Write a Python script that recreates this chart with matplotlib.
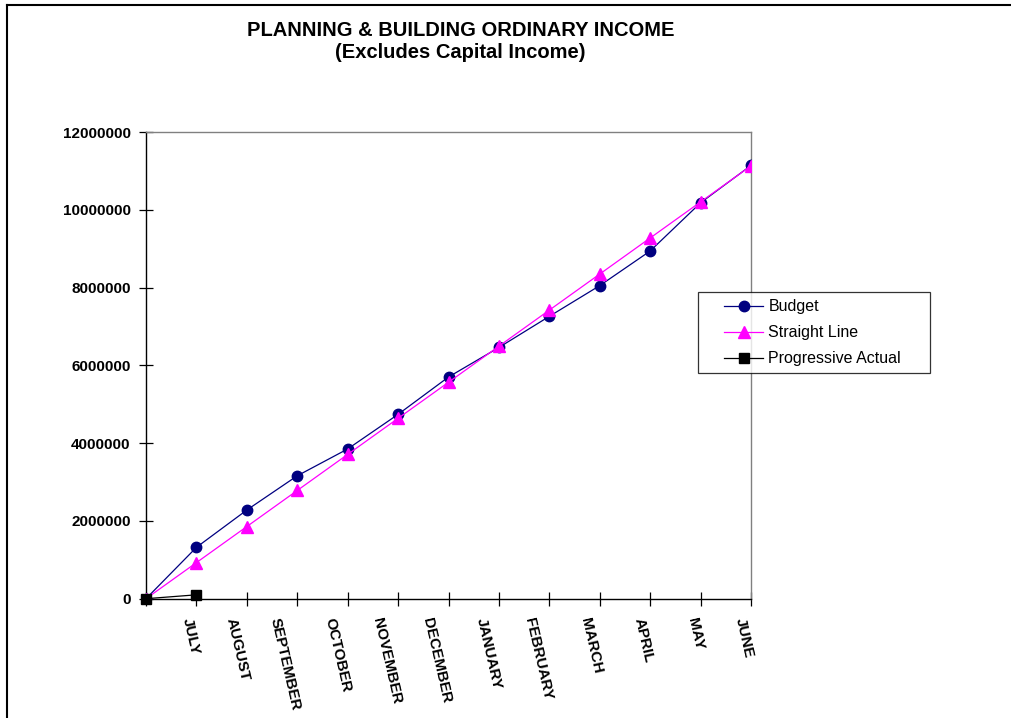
import matplotlib
matplotlib.use("Agg")
import matplotlib.pyplot as plt
from matplotlib.lines import Line2D
from matplotlib.legend_handler import HandlerLine2D
from matplotlib.transforms import ScaledTranslation

plt.rcParams['font.family'] = ['Liberation Sans', 'DejaVu Sans']

months = ["", "JULY", "AUGUST", "SEPTEMBER", "OCTOBER", "NOVEMBER", "DECEMBER",
          "JANUARY", "FEBRUARY", "MARCH", "APRIL", "MAY", "JUNE"]
budget = [0, 1320000, 2280000, 3160000, 3850000, 4740000, 5700000,
          6460000, 7260000, 8050000, 8940000, 10180000, 11140000]
straight_line = [0, 927500, 1855000, 2782500, 3710000, 4637500, 5565000,
                 6492500, 7420000, 8347500, 9275000, 10202500, 11130000]
progressive_actual = [0, 100000]
y_ticks = [0, 2000000, 4000000, 6000000, 8000000, 10000000, 12000000]

W, H = 1011, 718
fig = plt.figure(figsize=(W / 100, H / 100), dpi=100)
ax = fig.add_axes([146 / W, 1 - 598.7 / H, (751 - 146) / W, (598.7 - 132) / H])

x = list(range(len(months)))
l1, = ax.plot(x, budget, color="#000080", lw=0.9, marker="o", ms=7.5,
              mfc="#000080", mec="#000080", label="Budget", zorder=3)
l2, = ax.plot(x, straight_line, color="#FF00FF", lw=0.9, marker="^", ms=8,
              mfc="#FF00FF", mec="#FF00FF", label="Straight Line", zorder=4)
l3, = ax.plot(x[:len(progressive_actual)], progressive_actual, color="black",
              lw=0.9, marker="s", ms=7.5, mfc="black", mec="black",
              label="Progressive Actual", zorder=5, clip_on=False)

ax.set_xlim(0, len(months) - 1)
ax.set_ylim(0, 12000000)
ax.set_yticks(y_ticks)
ax.set_yticklabels([str(v) for v in y_ticks], fontsize=11, fontweight="bold")
ax.set_xticks(x)
ax.set_xticklabels(months, fontsize=11, fontweight="bold",
                   rotation=-77, ha="right", va="top")

ax.tick_params(axis="both", direction="inout", length=10, width=0.9, color="black")
ax.tick_params(axis="y", pad=6)
ax.tick_params(axis="x", pad=8)

shift = ScaledTranslation(5 / 100, 0, fig.dpi_scale_trans)
for lab in ax.get_xticklabels():
    lab.set_transform(lab.get_transform() + shift)

for side in ("left", "bottom"):
    ax.spines[side].set_color("black")
    ax.spines[side].set_linewidth(1.0)
for side in ("top", "right"):
    ax.spines[side].set_color("#808080")
    ax.spines[side].set_linewidth(1.0)

# legend box: fixed width, handles indented from the frame
box_w = (930 - 698) / W
box_h = (370 - 292) / H
handler = HandlerLine2D(xpad=1.2)
leg = ax.legend(handles=[l1, l2, l3],
                loc="upper left",
                bbox_to_anchor=(698 / W, 1 - 370 / H, box_w, box_h),
                bbox_transform=fig.transFigure, mode="expand",
                fontsize=11.5, frameon=True, fancybox=False, edgecolor="black",
                handlelength=3.65, handletextpad=0.3, borderpad=0.45,
                labelspacing=0.69, borderaxespad=0,
                handler_map={Line2D: handler})
leg.get_frame().set_linewidth(0.9)

fig.text(460.5 / W, 1 - 30 / H, "PLANNING & BUILDING ORDINARY INCOME",
         ha="center", va="center", fontsize=14.5, fontweight="bold")
fig.text(460.5 / W, 1 - 52.5 / H, "(Excludes Capital Income)",
         ha="center", va="center", fontsize=14.5, fontweight="bold")

# page edges at top and left
fig.add_artist(Line2D([7 / W, 1], [1 - 5 / H, 1 - 5 / H], color="black",
                      lw=1.5, transform=fig.transFigure))
fig.add_artist(Line2D([7 / W, 7 / W], [0, 1 - 5 / H], color="black",
                      lw=1.5, transform=fig.transFigure))

fig.savefig("out.png", dpi=100)
